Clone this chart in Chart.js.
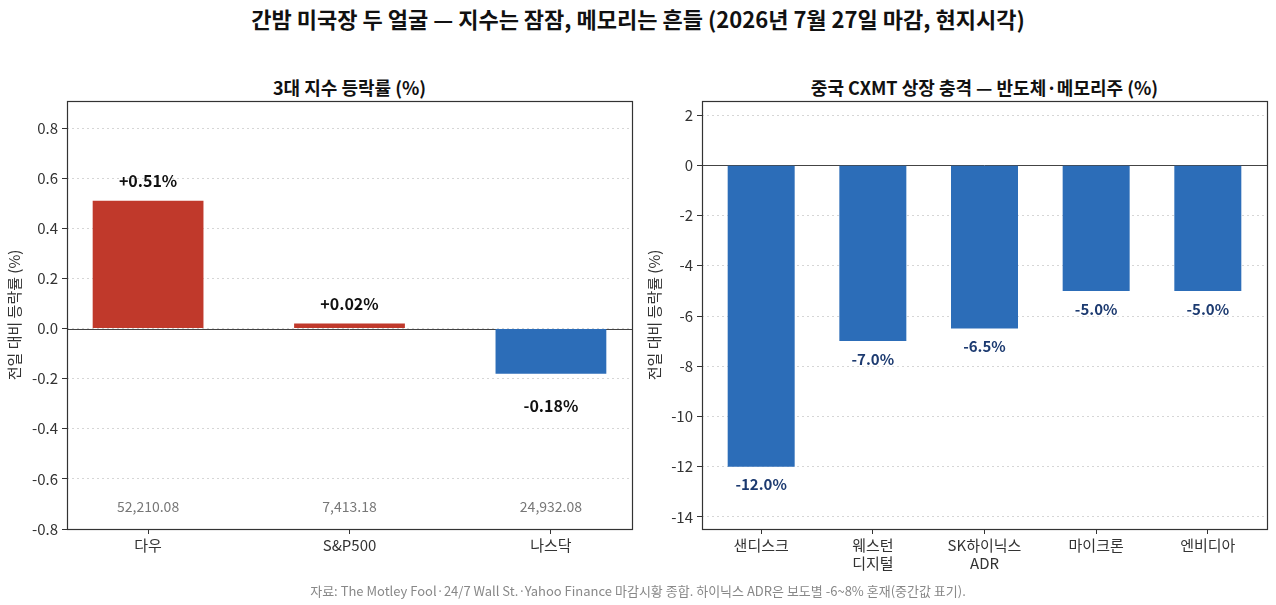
<!DOCTYPE html>
<html>
<head>
<meta charset="utf-8">
<script src="https://cdn.jsdelivr.net/npm/chart.js@4.4.1/dist/chart.umd.min.js"></script>
<style>
  body { margin: 0; background: #fff; font-family: "Noto Sans CJK KR", "Noto Sans", sans-serif; }
  #wrap { position: relative; width: 1276px; height: 605px; overflow: hidden; }
  .t { position: absolute; white-space: nowrap; color: #111; }
  .box { position: absolute; }
</style>
</head>
<body>
<div id="wrap">
  <div class="t" style="left:0;width:1276px;top:2px;text-align:center;font-size:22px;font-weight:bold;">간밤 미국장 두 얼굴 — 지수는 잠잠, 메모리는 흔들 (2026년 7월 27일 마감, 현지시각)</div>
  <div class="t" style="left:67px;width:565px;top:74px;text-align:center;font-size:18px;font-weight:bold;">3대 지수 등락률 (%)</div>
  <div class="t" style="left:702px;width:565px;top:74px;text-align:center;font-size:18px;font-weight:bold;">중국 CXMT 상장 충격 — 반도체·메모리주 (%)</div>
  <div class="box" style="left:0;top:95px;width:640px;height:505px;"><canvas id="chart-idx"></canvas></div>
  <div class="box" style="left:640px;top:95px;width:636px;height:505px;"><canvas id="chart-mem"></canvas></div>
  <div class="t" style="left:0;width:1276px;top:581px;text-align:center;font-size:13px;color:#888;">자료: The Motley Fool·24/7 Wall St.·Yahoo Finance 마감시황 종합. 하이닉스 ADR은 보도별 -6~8% 혼재(중간값 표기).</div>
</div>
<script>
  // 데이터
  var idxNames = ["다우", "S&P500", "나스닥"];
  var idxChange = [0.51, 0.02, -0.18];
  var idxClose = ["52,210.08", "7,413.18", "24,932.08"];

  var memNames = [["샌디스크"], ["웨스턴", "디지털"], ["SK하이닉스", "ADR"], ["마이크론"], ["엔비디아"]];
  var memChange = [-12.0, -7.0, -6.5, -5.0, -5.0];

  var idxTicks = [-0.8, -0.6, -0.4, -0.2, 0.0, 0.2, 0.4, 0.6, 0.8];
  var memTicks = [-14, -12, -10, -8, -6, -4, -2, 0, 2];

  var FONT = "'Noto Sans CJK KR', 'Noto Sans', sans-serif";
  var RED = "#c0392b", BLUE = "#2c6db8";

  // 테두리 + 0 기준선
  var framePlugin = {
    id: "frame",
    beforeDatasetsDraw: function (chart) {
      var c = chart.ctx, a = chart.chartArea, y0 = chart.scales.y.getPixelForValue(0);
      c.save();
      c.strokeStyle = "#444";
      c.lineWidth = 1;
      c.beginPath();
      c.moveTo(a.left, Math.round(y0) + 0.5);
      c.lineTo(a.right, Math.round(y0) + 0.5);
      c.stroke();
      c.restore();
    },
    afterDraw: function (chart) {
      var c = chart.ctx, a = chart.chartArea;
      c.save();
      c.strokeStyle = "#333";
      c.lineWidth = 1.2;
      c.strokeRect(Math.round(a.left) + 0.5, Math.round(a.top) + 0.5,
        Math.round(a.right - a.left), Math.round(a.bottom - a.top));
      c.restore();
    }
  };

  // 막대 값 라벨 (pos: 양수 위쪽 간격, neg: 음수 아래쪽 간격, 픽셀)
  var labelPlugin = {
    id: "vlabels",
    afterDatasetsDraw: function (chart, args, opts) {
      var c = chart.ctx, ys = chart.scales.y;
      var meta = chart.getDatasetMeta(0);
      var vals = chart.data.datasets[0].data;
      c.save();
      c.textAlign = "center";
      c.textBaseline = "middle";
      c.font = "bold " + opts.size + "px " + FONT;
      c.fillStyle = opts.color;
      meta.data.forEach(function (bar, i) {
        var v = vals[i].y;
        var txt = (v > 0 ? "+" : "") + v.toFixed(opts.digits) + "%";
        var yp = ys.getPixelForValue(v);
        c.fillText(txt, bar.x, v >= 0 ? yp - opts.pos : yp + opts.neg);
      });
      if (opts.extra) {
        c.font = "14px " + FONT;
        c.fillStyle = "#777";
        meta.data.forEach(function (bar, i) {
          c.fillText(opts.extra[i], bar.x, ys.getPixelForValue(-0.71));
        });
      }
      c.restore();
    }
  };

  function makeChart(id, names, values, colors, yMin, yMax, yTicks, yFmt, xMin, xMax, barPct, yW, padR, labelOpts) {
    var pts = values.map(function (v, i) { return { x: i, y: v }; });
    return new Chart(document.getElementById(id).getContext("2d"), {
      type: "bar",
      data: {
        datasets: [{
          data: pts,
          backgroundColor: colors,
          borderWidth: 0,
          barPercentage: barPct,
          categoryPercentage: 1.0
        }]
      },
      plugins: [framePlugin, labelPlugin],
      options: {
        responsive: true,
        maintainAspectRatio: false,
        animation: false,
        layout: { padding: { top: 6, right: padR, left: 0, bottom: 0 } },
        plugins: {
          legend: { display: false },
          tooltip: { enabled: false },
          vlabels: labelOpts
        },
        scales: {
          x: {
            type: "linear",
            offset: false,
            min: xMin,
            max: xMax,
            afterBuildTicks: function (s) { s.ticks = names.map(function (n, i) { return { value: i }; }); },
            afterFit: function (s) { s.height = 71; s.paddingLeft = 0; s.paddingRight = 0; },
            grid: { offset: false, drawOnChartArea: false, drawTicks: true, tickLength: 5, tickColor: "#333", tickWidth: 1 },
            border: { display: false },
            ticks: {
              color: "#333",
              padding: 3,
              maxRotation: 0,
              autoSkip: false,
              font: { size: 15, family: FONT, lineHeight: 1.15 },
              callback: function (v) { return names[v]; }
            }
          },
          y: {
            min: yMin,
            max: yMax,
            afterBuildTicks: function (s) { s.ticks = yTicks.map(function (t) { return { value: t }; }); },
            afterFit: function (s) { s.width = yW; s.paddingTop = 0; s.paddingBottom = 0; },
            grid: { color: "#d6d6d6", lineWidth: 1, drawTicks: true, tickLength: 5, tickColor: "#333", tickWidth: 1 },
            border: { display: false, dash: [2, 3] },
            title: {
              display: true,
              text: "전일 대비 등락률 (%)",
              color: "#333",
              padding: { top: 5, bottom: 0 },
              font: { size: 15, family: FONT, lineHeight: 1.2 }
            },
            ticks: {
              color: "#333",
              padding: 4,
              font: { size: 15, family: FONT },
              callback: yFmt
            }
          }
        }
      }
    });
  }

  var idxColors = idxChange.map(function (v) { return v >= 0 ? RED : BLUE; });
  var memColors = memChange.map(function (v) { return v >= 0 ? RED : BLUE; });

  makeChart("chart-idx", idxNames, idxChange, idxColors, -0.8, 0.908, idxTicks,
    function (v) { return v.toFixed(1); }, -0.4025, 2.4025, 0.55, 67, 8,
    { size: 16, color: "#111", digits: 2, pos: 20, neg: 32, extra: idxClose });

  makeChart("chart-mem", memNames, memChange, memColors, -14.48, 2.56, memTicks,
    function (v) { return String(v); }, -0.53, 4.53, 0.6, 62, 9,
    { size: 15, color: "#1c3a70", digits: 1, pos: 18, neg: 18, extra: null });
</script>
</body>
</html>
